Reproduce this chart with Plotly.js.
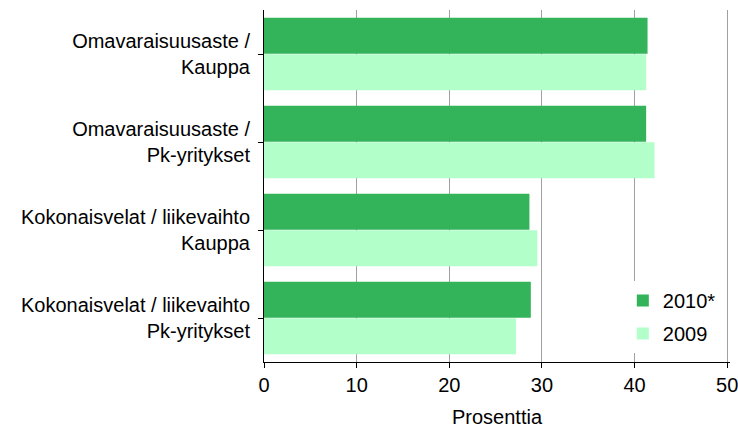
<!DOCTYPE html>
<html><head><meta charset="utf-8">
<script src="https://cdn.plot.ly/plotly-3.0.1.min.js"></script>
<style>html,body{margin:0;padding:0;background:#fff;}</style>
</head><body>
<div id="chart" style="width:738px;height:428px;"></div>
<script>
const categories = [
  "Omavaraisuusaste /<br>Kauppa",
  "Omavaraisuusaste /<br>Pk-yritykset",
  "Kokonaisvelat / liikevaihto<br>Kauppa",
  "Kokonaisvelat / liikevaihto<br>Pk-yritykset"
];
const series2010 = [41.4, 41.25, 28.65, 28.8];
const series2009 = [41.25, 42.15, 29.5, 27.2];
const seriesNames = ["2010*", "2009"];
const xTicks = [0, 10, 20, 30, 40, 50];

const font = {family: "Liberation Sans, Arial, sans-serif", size: 20, color: "#000"};

const traces = [
  {type: "bar", orientation: "h", name: seriesNames[0], y: categories, x: series2010,
   marker: {color: "#33b35a", line: {width: 0}}, legendgroup: "a"},
  {type: "bar", orientation: "h", name: seriesNames[1], y: categories, x: series2009,
   marker: {color: "#b3ffca", line: {width: 0}}, legendgroup: "b"}
];

const layout = {
  width: 738, height: 428,
  margin: {l: 264, r: 8, t: 10, b: 66},
  paper_bgcolor: "#fff", plot_bgcolor: "#fff",
  font: font,
  barmode: "group", bargap: 0.17, bargroupgap: 0.02,
  xaxis: {
    range: [0, 50.3], tickvals: xTicks, ticktext: xTicks.map(String),
    showgrid: true, gridcolor: "#a0a0a0", gridwidth: 1,
    showline: true, linecolor: "#000", linewidth: 1,
    ticks: "outside", ticklen: 5, tickcolor: "#000",
    ticklabeloverflow: "allow",
    zeroline: false, fixedrange: true,
    title: {text: "Prosenttia", font: font, standoff: 15}
  },
  yaxis: {
    autorange: "reversed", showgrid: false,
    showline: true, linecolor: "#000", linewidth: 1,
    ticks: "outside", ticklen: 5, tickcolor: "#000",
    ticklabelstandoff: 4,
    fixedrange: true
  },
  showlegend: true,
  legend: {
    x: 0.77, y: 0.23, xanchor: "left", yanchor: "top",
    bgcolor: "#fff", borderwidth: 0,
    traceorder: "grouped", tracegroupgap: 4,
    font: font, itemwidth: 30
  }
};

Plotly.newPlot("chart", traces, layout, {displayModeBar: false, staticPlot: true});
</script>
</body></html>
